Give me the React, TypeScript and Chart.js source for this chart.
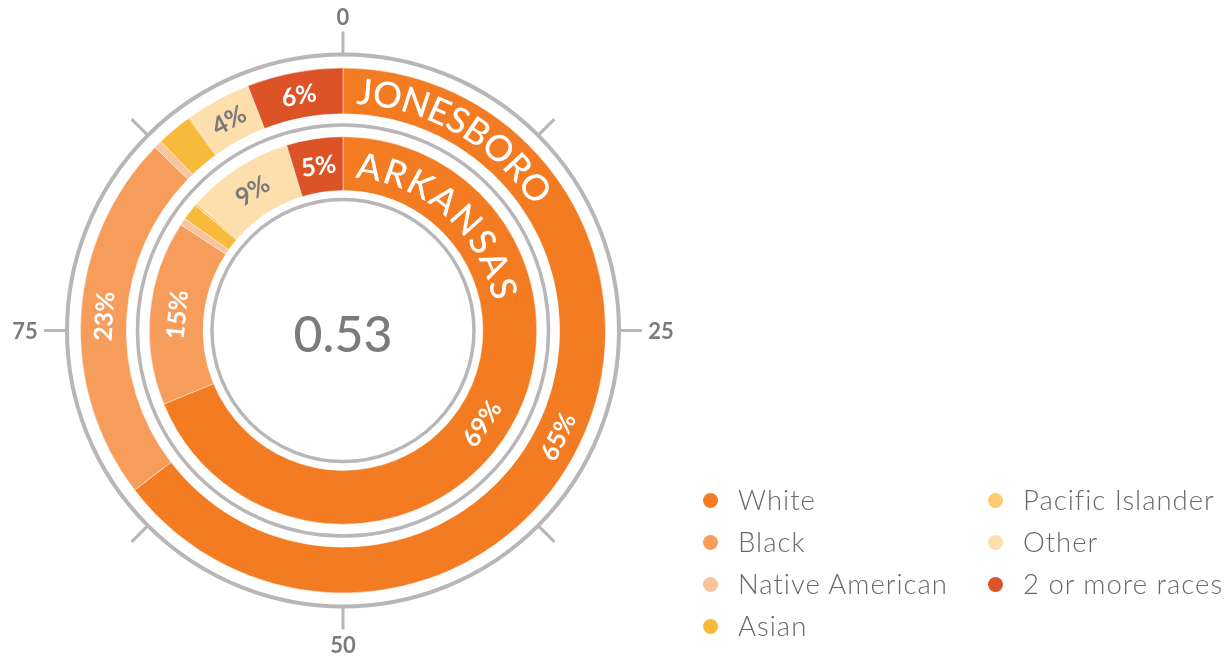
import React, { useEffect, useRef } from "react";
import { Chart, registerables } from "chart.js";

Chart.register(...registerables);

const categories = ["White", "Black", "Native American", "Asian", "Pacific Islander", "Other", "2 or more races"];
const jonesboroValues = [64.6, 22.7, 0.5, 2.2, 0.1, 4.0, 5.9];
const arkansasValues = [68.8, 15.4, 0.6, 1.4, 0.2, 8.9, 4.7];
const ringNames = ["JONESBORO", "ARKANSAS"];
const gaugeTickLabels = ["0", "25", "50", "75"];
const centerValue = "0.53";

const palette = ["#F37B22", "#F69D5C", "#F9C49B", "#F8BA3A", "#FCCB72", "#FDDFAE", "#DB5327"];
const labelColors = ["#FFFFFF", "#FFFFFF", "#7D7A7B", "#7D7A7B", "#7D7A7B", "#7D7A7B", "#FFFFFF"];
const GRAY = "#B8B6B7";
const TEXT_GRAY = "#7D7A7B";
const FONT = "Lato, 'Open Sans', sans-serif";

const W = 1227;
const H = 656;

const decorPlugin = {
  id: "decor",
  beforeDatasetsDraw(chart: any) {
    const arc = chart.getDatasetMeta(0).data[0];
    if (!arc) return;
    const cx = arc.x, cy = arc.y;
    const ctx = chart.ctx;
    ctx.save();
    ctx.strokeStyle = GRAY;
    const circles: [number, number][] = [[276, 4], [205.5, 3.5], [131, 3.5]];
    circles.forEach(([r, w]) => {
      ctx.lineWidth = w;
      ctx.beginPath();
      ctx.arc(cx, cy, r, 0, Math.PI * 2);
      ctx.stroke();
    });
    ctx.lineWidth = 3;
    for (let k = 0; k < 8; k++) {
      const t = (k * Math.PI) / 4;
      const s = Math.sin(t), c = -Math.cos(t);
      ctx.beginPath();
      ctx.moveTo(cx + s * 277, cy + c * 277);
      ctx.lineTo(cx + s * 299, cy + c * 299);
      ctx.stroke();
    }
    ctx.fillStyle = TEXT_GRAY;
    ctx.font = `700 22px ${FONT}`;
    ctx.textAlign = "center";
    ctx.textBaseline = "middle";
    gaugeTickLabels.forEach((lab, i) => {
      const t = (i * Math.PI) / 2;
      const r = i % 2 === 0 ? 314 : 318;
      ctx.fillText(lab, cx + Math.sin(t) * r, cy - Math.cos(t) * r + 1);
    });
    ctx.restore();
  },
  afterDatasetsDraw(chart: any) {
    const ctx = chart.ctx;
    const arc0 = chart.getDatasetMeta(0).data[0];
    if (!arc0) return;
    const cx = arc0.x, cy = arc0.y;
    ctx.save();
    [0, 2].forEach((di) => {
      const meta = chart.getDatasetMeta(di);
      const values = chart.data.datasets[di].data as number[];
      meta.data.forEach((el: any, i: number) => {
        const v = values[i];
        if (v < 3) return;
        const a = (el.startAngle + el.endAngle) / 2;
        const r = (el.innerRadius + el.outerRadius) / 2;
        const x = cx + Math.cos(a) * r;
        const y = cy + Math.sin(a) * r;
        const theta = a + Math.PI / 2;
        let tn = theta % (Math.PI * 2);
        if (tn < 0) tn += Math.PI * 2;
        const rot = tn > Math.PI / 2 && tn < (3 * Math.PI) / 2 ? theta - Math.PI : theta;
        ctx.save();
        ctx.translate(x, y);
        ctx.rotate(rot);
        ctx.fillStyle = labelColors[i];
        ctx.font = `700 25px ${FONT}`;
        ctx.textAlign = "center";
        ctx.textBaseline = "middle";
        ctx.fillText(Math.round(v) + "%", 0, 1);
        ctx.restore();
      });
    });
    const drawCurved = (text: string, baseR: number, startDeg: number, endDeg: number, size: number) => {
      ctx.font = `500 ${size}px ${FONT}`;
      ctx.fillStyle = "#FFFFFF";
      ctx.textAlign = "center";
      ctx.textBaseline = "alphabetic";
      const chars = text.split("");
      const widths = chars.map((ch) => ctx.measureText(ch).width);
      const natural = widths.reduce((s, w) => s + w, 0);
      const target = ((endDeg - startDeg) * Math.PI) / 180 * baseR;
      const gap = (target - natural) / (chars.length - 1);
      let pos = 0;
      chars.forEach((ch, i) => {
        const mid = pos + widths[i] / 2;
        const t = (startDeg * Math.PI) / 180 + mid / baseR;
        ctx.save();
        ctx.translate(cx + Math.sin(t) * baseR, cy - Math.cos(t) * baseR);
        ctx.rotate(t);
        ctx.fillText(ch, 0, 0);
        ctx.restore();
        pos += widths[i] + gap;
      });
    };
    drawCurved(ringNames[0], 227, 3.3, 57, 36);
    drawCurved(ringNames[1], 153, 4.5, 79, 36);
    ctx.fillStyle = TEXT_GRAY;
    ctx.font = `500 50px ${FONT}`;
    ctx.textAlign = "center";
    ctx.textBaseline = "middle";
    ctx.fillText(centerValue, cx, cy + 5);
    ctx.restore();
  },
};

export default function App() {
  const canvasRef = useRef<HTMLCanvasElement | null>(null);

  useEffect(() => {
    if (!canvasRef.current) return;
    const chart = new Chart(canvasRef.current, {
      type: "doughnut",
      data: {
        labels: categories,
        datasets: [
          {
            label: "Jonesboro",
            data: jonesboroValues,
            backgroundColor: palette,
            borderColor: "rgba(255,255,255,0.45)",
            borderWidth: 1,
            weight: 46,
          },
          {
            label: "spacer",
            data: [1],
            backgroundColor: ["rgba(0,0,0,0)"],
            borderWidth: 0,
            weight: 23,
          } as any,
          {
            label: "Arkansas",
            data: arkansasValues,
            backgroundColor: palette,
            borderColor: "rgba(255,255,255,0.45)",
            borderWidth: 1,
            weight: 54,
          },
        ],
      },
      options: {
        responsive: false,
        animation: false,
        events: [],
        cutout: "53.3%",
        layout: { padding: { left: 80, right: W - 606, top: 67, bottom: H - 594 } },
        plugins: {
          legend: { display: false },
          tooltip: { enabled: false },
        },
      },
      plugins: [decorPlugin],
    });
    return () => chart.destroy();
  }, []);

  const legendRows = categories.map((c, i) => ({ c, i }));
  const col1 = legendRows.slice(0, 4);
  const col2 = legendRows.slice(4);

  const renderItem = (c: string, i: number, row: number, left: number) => (
    <div
      key={c}
      style={{
        position: "absolute",
        left,
        top: 500 + row * 42 - 17,
        height: 34,
        display: "flex",
        alignItems: "center",
        whiteSpace: "nowrap",
      }}
    >
      <span
        style={{
          display: "inline-block",
          width: 15,
          height: 15,
          borderRadius: "50%",
          background: palette[i],
          marginRight: 20,
        }}
      />
      <span
        style={{
          fontFamily: FONT,
          fontWeight: 300,
          fontSize: 27.5,
          letterSpacing: 1,
          color: "#6A6868",
          lineHeight: "34px",
        }}
      >
        {c}
      </span>
    </div>
  );

  return (
    <div style={{ position: "absolute", left: 0, top: 0, width: W, height: H, background: "#fff", overflow: "hidden" }}>
      <canvas ref={canvasRef} width={W} height={H} style={{ position: "absolute", left: 0, top: 0 }} />
      {col1.map((r, k) => renderItem(r.c, r.i, k, 703))}
      {col2.map((r, k) => renderItem(r.c, r.i, k, 988))}
    </div>
  );
}
